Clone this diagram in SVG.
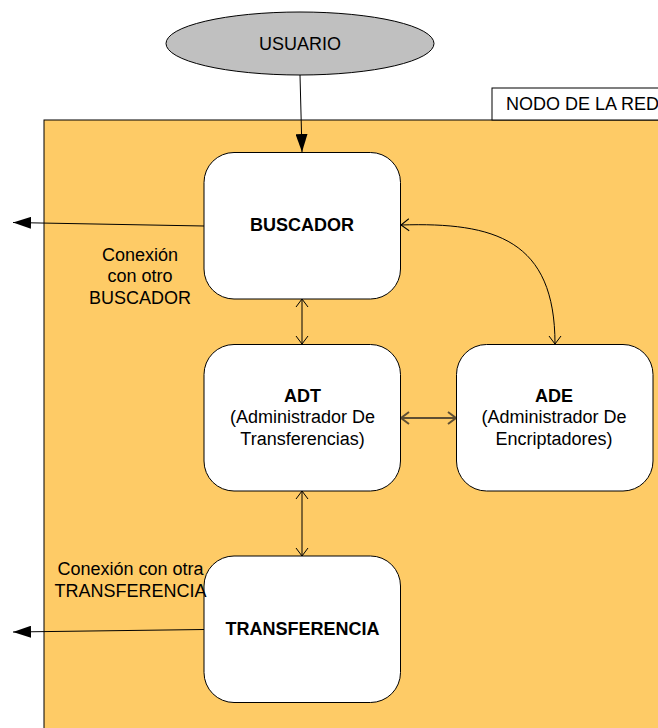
<svg xmlns="http://www.w3.org/2000/svg" width="658" height="728" viewBox="0 0 658 728">
  <style>
    text { font-family: "Liberation Sans", Arial, sans-serif; font-size: 18px; fill: #000; }
    .b { font-weight: bold; }
    .node { fill: #fff; stroke: #000; stroke-width: 1; }
    .line { fill: none; stroke: #000; stroke-width: 1; }
    .link2 { fill: none; stroke: #5f4f33; stroke-width: 2; }
  </style>
  <defs>
    <marker id="solid" viewBox="0 0 18 12" refX="18" refY="6" markerWidth="18" markerHeight="12" markerUnits="userSpaceOnUse" orient="auto-start-reverse">
      <path d="M0,0 L18,6 L0,12 Z" fill="#000"/>
    </marker>
    <marker id="open" viewBox="-1 -1 11 14" refX="8" refY="6" markerWidth="11" markerHeight="14" markerUnits="userSpaceOnUse" orient="auto-start-reverse">
      <path d="M0,0 L8,6 L0,12" fill="none" stroke="#000" stroke-width="1"/>
    </marker>
    <marker id="open2" viewBox="-1 -1 11 14" refX="8" refY="6" markerWidth="11" markerHeight="14" markerUnits="userSpaceOnUse" orient="auto-start-reverse">
      <path d="M0,0 L8,6 L0,12" fill="none" stroke="#5f4f33" stroke-width="2"/>
    </marker>
  </defs>

  <!-- network node container -->
  <g id="nodo-red">
    <rect x="44" y="120" width="620" height="620" fill="#FECB66" stroke="#000" stroke-width="1"/>
    <rect x="492" y="88" width="172" height="32" fill="#fff" stroke="#000" stroke-width="1"/>
    <text x="506" y="110">NODO DE LA RED</text>
  </g>

  <g id="usuario">
    <ellipse cx="300" cy="43.5" rx="134" ry="31.5" fill="#C0C0C0" stroke="#000" stroke-width="1"/>
    <text x="300" y="50" text-anchor="middle">USUARIO</text>
  </g>

  <!-- connectors -->
  <g id="connectors">
    <path class="line" d="M300,75 L302,152" marker-end="url(#solid)"/>
    <path class="line" d="M204,226 L13,222.5" marker-end="url(#solid)"/>
    <path class="line" d="M204,629.5 L13,632" marker-end="url(#solid)"/>
    <path class="line" d="M302,299 L302,344" marker-start="url(#open)" marker-end="url(#open)"/>
    <path class="line" d="M302,491 L302,556" marker-start="url(#open)" marker-end="url(#open)"/>
    <path class="line" d="M401,225 C495,222 555,240 555,344" marker-start="url(#open)" marker-end="url(#open)"/>
    <path class="link2" d="M401,418 L456,418" marker-start="url(#open2)" marker-end="url(#open2)"/>
  </g>

  <g id="buscador">
    <rect class="node" x="204" y="152.5" width="196.5" height="146.5" rx="30" ry="30"/>
    <text class="b" x="302" y="231" text-anchor="middle">BUSCADOR</text>
  </g>

  <g id="adt">
    <rect class="node" x="204" y="344.5" width="196.5" height="146.5" rx="30" ry="30"/>
    <text class="b" x="302.5" y="401.5" text-anchor="middle">ADT</text>
    <text x="302.5" y="423" text-anchor="middle">(Administrador De</text>
    <text x="302.5" y="444.5" text-anchor="middle">Transferencias)</text>
  </g>

  <g id="ade">
    <rect class="node" x="456.5" y="344.5" width="196.5" height="146.5" rx="30" ry="30"/>
    <text class="b" x="554" y="401.5" text-anchor="middle">ADE</text>
    <text x="554" y="423" text-anchor="middle">(Administrador De</text>
    <text x="554" y="444.5" text-anchor="middle">Encriptadores)</text>
  </g>

  <g id="transferencia">
    <rect class="node" x="204" y="556" width="196.5" height="146.5" rx="30" ry="30"/>
    <text class="b" x="302.5" y="634.5" text-anchor="middle">TRANSFERENCIA</text>
  </g>

  <!-- connection labels -->
  <g id="labels">
    <text x="140" y="261" text-anchor="middle">Conexión</text>
    <text x="140" y="282" text-anchor="middle">con otro</text>
    <text x="140" y="303.5" text-anchor="middle">BUSCADOR</text>
    <text x="130.5" y="575" text-anchor="middle">Conexión con otra</text>
    <text x="130.5" y="596.5" text-anchor="middle">TRANSFERENCIA</text>
  </g>
</svg>
